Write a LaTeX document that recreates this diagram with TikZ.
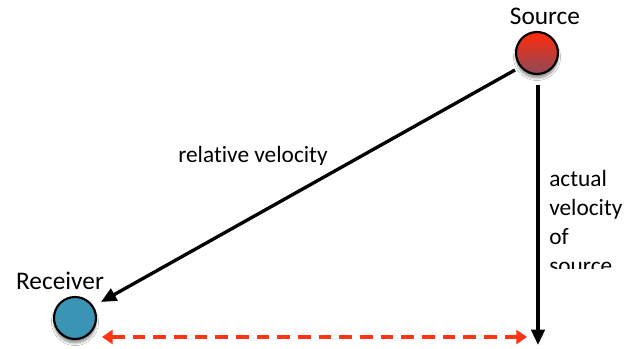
\documentclass[tikz,border=0pt]{standalone}
\usepackage{fontspec}
\setmainfont[Ligatures=NoCommon]{Carlito}
\usetikzlibrary{arrows.meta,shadows.blur}
\definecolor{srctop}{HTML}{FF2A0A}
\definecolor{srcbot}{HTML}{8E4A5A}
\definecolor{rcvfill}{HTML}{3A94B4}
\definecolor{dashred}{HTML}{FF3414}
\tikzset{
  ball/.style={circle, draw=black, line width=1.6pt, minimum size=31.5pt, inner sep=0pt,
    blur shadow={shadow xshift=0pt, shadow yshift=-3pt, shadow blur steps=6, shadow opacity=45}},
  lbl/.style={inner sep=0pt, font=\fontsize{19}{22}\selectfont},
  vlbl/.style={inner sep=0pt, anchor=base west, font=\fontsize{17.5}{21}\selectfont},
  vecarrow/.style={line width=2.5pt, -{Triangle[length=11.5pt,width=10pt]}},
  gaparrow/.style={line width=2.9pt, dashred, dash pattern=on 9.5pt off 6pt,
    {Triangle[length=8pt,width=10.5pt]}-{Triangle[length=8pt,width=10.5pt]}}
}
\begin{document}
\begin{tikzpicture}[x=0.75pt,y=-0.75pt]
\useasboundingbox[fill=white] (0,0) rectangle (639,349);
% balls
\node[ball, top color=srctop, bottom color=srcbot] (src) at (537,53) {};
\node[ball, fill=rcvfill] (rcv) at (75,318) {};
% labels
\node[lbl, anchor=base] (srclbl) at (545,25) {Source};
\node[lbl, anchor=base] (rcvlbl) at (60,289) {Receiver};
% connectors
\coordinate (d1) at (515,70);
\coordinate (d2) at (101,302);
\draw[vecarrow] (d1) -- (d2);
\coordinate (v1) at (538,85);
\coordinate (v2) at (538,345);
\draw[vecarrow] (v1) -- (v2);
\coordinate (g1) at (102,337);
\coordinate (g2) at (527,337);
\draw[gaparrow] (g1) -- (g2);
% clipped texts
\begin{scope}
\clip (150,120) rectangle (360,164.5);
\node[vlbl] (rel) at (178,162.5) {relative velocity};
\end{scope}
\begin{scope}
\clip (545,150) rectangle (639,268);
\node[vlbl] (act1) at (549,186) {actual};
\node[vlbl] (act2) at (549,215) {velocity};
\node[vlbl] (act3) at (549,244) {of};
\node[vlbl] (act4) at (549,273) {source};
\end{scope}
\end{tikzpicture}
\end{document}
